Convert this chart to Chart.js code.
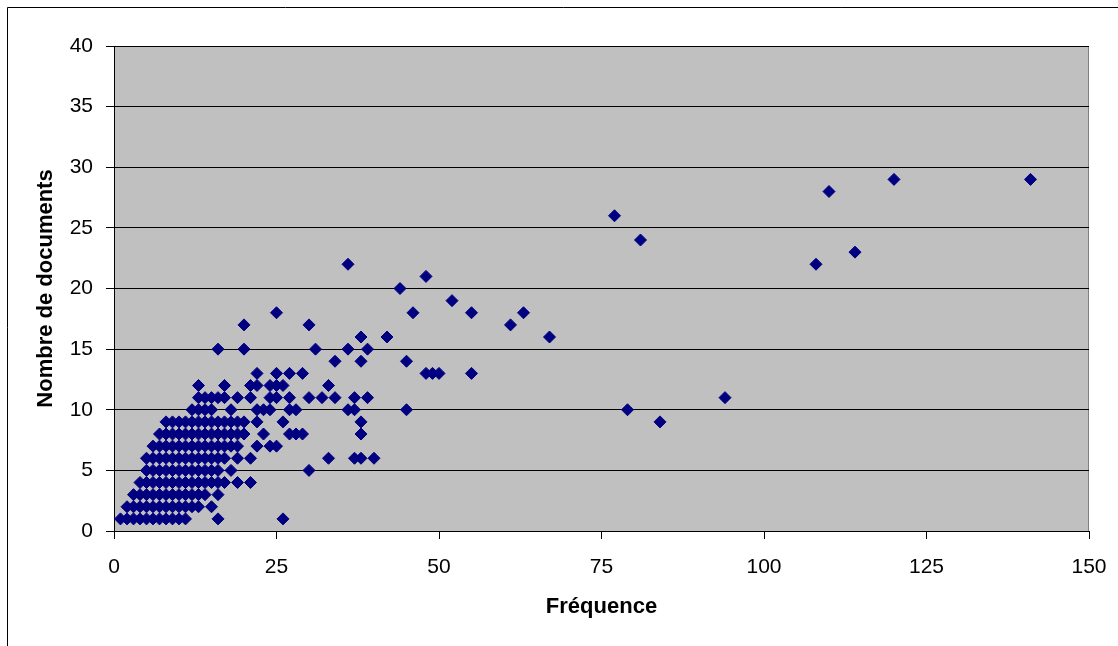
<!DOCTYPE html>
<html>
<head>
<meta charset="utf-8">
<script src="https://cdn.jsdelivr.net/npm/chart.js@4"></script>
<style>
html,body{margin:0;padding:0;background:#fff;}
#wrap{position:relative;width:1118px;height:646px;}
canvas{display:block;}
</style>
</head>
<body>
<div id="wrap"><canvas id="c" width="1118" height="646"></canvas></div>
<script>
// Fréquence (x) and Nombre de documents (y), paired point by point
const frequence = [
  1,2,3,4,5,6,7,8,9,10,11,16,26,
  2,3,4,5,6,7,8,9,10,11,12,13,15,
  3,4,5,6,7,8,9,10,11,12,13,14,16,
  4,5,6,7,8,9,10,11,12,13,14,15,16,17,19,21,
  5,6,7,8,9,10,11,12,13,14,15,16,18,30,
  5,6,7,8,9,10,11,12,13,14,15,16,17,19,21,33,37,38,40,
  6,7,8,9,10,11,12,13,14,15,16,17,18,19,22,24,25,
  7,8,9,10,11,12,13,14,15,16,17,18,19,20,23,27,28,29,38,
  8,9,10,11,12,13,14,15,16,17,18,19,20,22,26,38,84,
  12,13,14,15,18,22,23,24,27,28,36,37,45,79,
  13,14,15,16,17,19,21,24,25,27,30,32,34,37,39,94,
  13,17,21,22,24,25,26,33,
  22,25,27,29,48,49,50,55,
  34,38,45,
  16,20,31,36,39,
  38,42,67,
  20,30,61,
  25,46,55,63,
  52,
  44,
  48,
  36,108,
  114,
  81,
  77,
  110,
  120,141
];
const documents = [
  1,1,1,1,1,1,1,1,1,1,1,1,1,
  2,2,2,2,2,2,2,2,2,2,2,2,2,
  3,3,3,3,3,3,3,3,3,3,3,3,3,
  4,4,4,4,4,4,4,4,4,4,4,4,4,4,4,4,
  5,5,5,5,5,5,5,5,5,5,5,5,5,5,
  6,6,6,6,6,6,6,6,6,6,6,6,6,6,6,6,6,6,6,
  7,7,7,7,7,7,7,7,7,7,7,7,7,7,7,7,7,
  8,8,8,8,8,8,8,8,8,8,8,8,8,8,8,8,8,8,8,
  9,9,9,9,9,9,9,9,9,9,9,9,9,9,9,9,9,
  10,10,10,10,10,10,10,10,10,10,10,10,10,10,
  11,11,11,11,11,11,11,11,11,11,11,11,11,11,11,11,
  12,12,12,12,12,12,12,12,
  13,13,13,13,13,13,13,13,
  14,14,14,
  15,15,15,15,15,
  16,16,16,
  17,17,17,
  18,18,18,18,
  19,
  20,
  21,
  22,22,
  23,
  24,
  26,
  28,
  29,29
];
const xTicks = [0, 25, 50, 75, 100, 125, 150];
const yTicks = [0, 5, 10, 15, 20, 25, 30, 35, 40];
const xTitle = 'Fréquence';
const yTitle = 'Nombre de documents';

const points = frequence.map((f, i) => ({x: f, y: documents[i]}));

const bgPlugin = {
  id: 'bg',
  beforeDraw(chart) {
    const ctx = chart.ctx;
    const a = chart.chartArea;
    ctx.save();
    ctx.fillStyle = '#ffffff';
    ctx.fillRect(0, 0, chart.width, chart.height);
    // outer frame
    ctx.strokeStyle = '#000000';
    ctx.lineWidth = 1;
    ctx.beginPath();
    ctx.moveTo(7.5, chart.height + 2);
    ctx.lineTo(7.5, 7.5);
    ctx.lineTo(chart.width + 2, 7.5);
    ctx.stroke();
    // plot area
    ctx.fillStyle = '#c0c0c0';
    ctx.fillRect(a.left, a.top, a.right - a.left, a.bottom - a.top);
    ctx.strokeStyle = '#808080';
    ctx.beginPath();
    ctx.moveTo(Math.round(a.right) - 0.5, a.top);
    ctx.lineTo(Math.round(a.right) - 0.5, a.bottom);
    ctx.stroke();
    ctx.restore();
  }
};

const FONT = "'Liberation Sans', Arial, sans-serif";

new Chart(document.getElementById('c'), {
  type: 'scatter',
  data: {
    datasets: [{
      data: points,
      pointStyle: 'rectRot',
      pointRadius: 6,
      pointHoverRadius: 6,
      backgroundColor: '#000080',
      borderColor: '#000080',
      borderWidth: 1
    }]
  },
  options: {
    responsive: false,
    animation: false,
    devicePixelRatio: 1,
    layout: {autoPadding: false, padding: {left: 29, top: 46, right: 29, bottom: 22}},
    plugins: {legend: {display: false}, tooltip: {enabled: false}},
    scales: {
      x: {
        type: 'linear',
        min: xTicks[0],
        max: xTicks[xTicks.length - 1],
        afterBuildTicks: s => { s.ticks = xTicks.map(v => ({value: v})); },
        afterFit: s => { s.height = 93; s.paddingRight = 0; s.paddingLeft = 0; },
        ticks: {color: '#000', padding: 16, font: {family: FONT, size: 21}, maxRotation: 0},
        grid: {drawOnChartArea: false, drawTicks: true, tickLength: 8, color: '#000', tickColor: '#000', lineWidth: 1},
        border: {display: true, color: '#000', width: 1},
        title: {display: true, text: xTitle, color: '#000', font: {family: FONT, size: 22, weight: 'bold'}, padding: {top: 4, bottom: 4}}
      },
      y: {
        type: 'linear',
        min: yTicks[0],
        max: yTicks[yTicks.length - 1],
        afterBuildTicks: s => { s.ticks = yTicks.map(v => ({value: v})); },
        afterFit: s => { s.width = 85; s.paddingTop = 0; s.paddingBottom = 0; },
        ticks: {color: '#000', padding: 13, font: {family: FONT, size: 21}},
        grid: {drawOnChartArea: true, drawTicks: true, tickLength: 8, color: '#000', tickColor: '#000', lineWidth: 1},
        border: {display: true, color: '#000', width: 1},
        title: {display: true, text: yTitle, color: '#000', font: {family: FONT, size: 22, weight: 'bold'}, padding: {top: 4, bottom: 4}}
      }
    }
  },
  plugins: [bgPlugin]
});
</script>
</body>
</html>
